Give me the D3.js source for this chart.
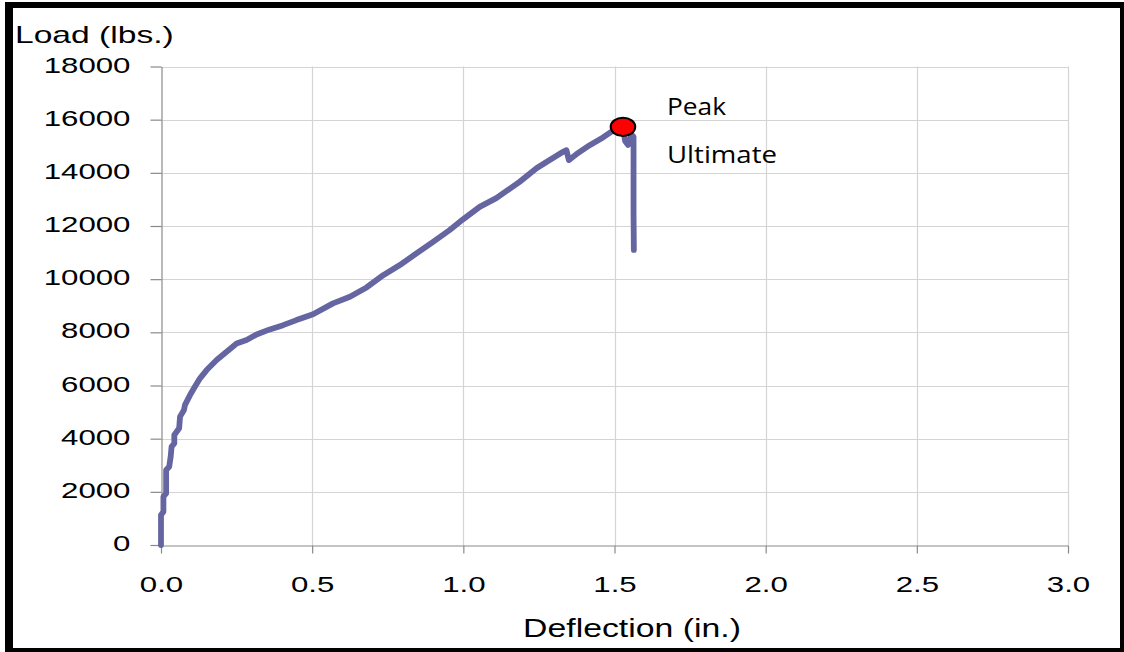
<!DOCTYPE html>
<html>
<head>
<meta charset="utf-8">
<script src="https://cdn.jsdelivr.net/npm/d3@7"></script>
<style>
  html, body { margin: 0; padding: 0; background: #fff; }
  svg { display: block; }
</style>
</head>
<body>
<svg id="chart" width="1124" height="652"></svg>
<script>
// Load–deflection record of the test (deflection in inches, load in lbs)
const deflection = [0, 0, 0.008, 0.008, 0.017, 0.017, 0.027, 0.032, 0.035, 0.044, 0.044,
  0.060, 0.063, 0.076, 0.079, 0.096, 0.112, 0.129, 0.151, 0.184, 0.217, 0.250, 0.283,
  0.316, 0.360, 0.404, 0.448, 0.503, 0.569, 0.625, 0.680, 0.735, 0.790, 0.845, 0.900,
  0.955, 0.999, 1.054, 1.109, 1.186, 1.242, 1.275, 1.330, 1.341, 1.349, 1.356, 1.374,
  1.418, 1.462, 1.489, 1.528, 1.535, 1.545, 1.552, 1.560, 1.563, 1.563, 1.564];
const load = [0, 1130, 1250, 1820, 1940, 2820, 2940, 3320, 3700, 3820, 4140,
  4390, 4830, 5080, 5260, 5640, 5950, 6270, 6580, 6960, 7270, 7580, 7710,
  7920, 8110, 8270, 8460, 8680, 9090, 9340, 9690, 10150, 10530, 10970, 11400,
  11850, 12250, 12720, 13050, 13660, 14170, 14410, 14790, 14850, 14480, 14540, 14700,
  15040, 15330, 15540, 15730, 15200, 15050, 15300, 15400, 15350, 12500, 11100];

// Highlighted peak load
const peakPoint = { deflection: 1.528, load: 15730 };

// Axis ticks
const xTicks = [0, 0.5, 1.0, 1.5, 2.0, 2.5, 3.0];
const yTicks = [0, 2000, 4000, 6000, 8000, 10000, 12000, 14000, 16000, 18000];

// Annotation labels
const annotations = ["Peak", "Ultimate"];

const svg = d3.select("#chart");
const plot = { left: 161, right: 1068, top: 66.5, bottom: 545 };

const x = d3.scaleLinear().domain([0, 3]).range([plot.left, plot.right]);
const y = d3.scaleLinear().domain([0, 18000]).range([plot.bottom, plot.top]);

const arial = "'Liberation Sans', Arial, Helvetica, sans-serif";

// Outer frame
const frame = svg.append("g").attr("fill", "#000");
frame.append("rect").attr("x", 5).attr("y", 2).attr("width", 1119).attr("height", 6);
frame.append("rect").attr("x", 5).attr("y", 2).attr("width", 8).attr("height", 650);
frame.append("rect").attr("x", 1120).attr("y", 2).attr("width", 4).attr("height", 650);
frame.append("rect").attr("x", 5).attr("y", 648).attr("width", 1119).attr("height", 4);

// Gridlines
const grid = svg.append("g").attr("stroke", "#d4d4d4").attr("stroke-width", 1.2);
grid.selectAll("line.h").data(yTicks.filter(d => d > 0)).join("line")
  .attr("x1", plot.left).attr("x2", plot.right)
  .attr("y1", d => Math.round(y(d)) + 0.5).attr("y2", d => Math.round(y(d)) + 0.5);
grid.selectAll("line.v").data(xTicks.filter(d => d > 0)).join("line")
  .attr("y1", plot.top).attr("y2", plot.bottom)
  .attr("x1", d => Math.round(x(d)) + 0.5).attr("x2", d => Math.round(x(d)) + 0.5);

// Axes
const yAxis = svg.append("g")
  .attr("transform", `translate(${plot.left + 0.5},0)`)
  .call(d3.axisLeft(y).tickValues(yTicks).tickSize(11).tickSizeOuter(0).tickFormat(d3.format("d")));
const xAxis = svg.append("g")
  .attr("transform", `translate(0,${plot.bottom + 0.5})`)
  .call(d3.axisBottom(x).tickValues(xTicks).tickSize(8).tickSizeOuter(0).tickFormat(d3.format(".1f")));

[yAxis, xAxis].forEach(ax => {
  ax.select(".domain").attr("stroke", "#8a8a8a").attr("stroke-width", 1.2);
  ax.selectAll(".tick line").attr("stroke", "#8a8a8a").attr("stroke-width", 1.2);
});

yAxis.selectAll(".tick text")
  .attr("x", null).attr("dy", null)
  .attr("transform", "translate(-31,5.5) scale(1.42,1)")
  .attr("font-family", arial).attr("font-size", 22).attr("fill", "#000")
  .attr("text-anchor", "end");
xAxis.selectAll(".tick text")
  .attr("y", null).attr("dy", null)
  .attr("transform", "translate(0,46) scale(1.42,1)")
  .attr("font-family", arial).attr("font-size", 22).attr("fill", "#000")
  .attr("text-anchor", "middle");

// Axis titles
svg.append("text")
  .attr("transform", "translate(15,43) scale(1.4,1)")
  .attr("font-family", arial).attr("font-size", 24)
  .text("Load (lbs.)");
svg.append("text")
  .attr("transform", "translate(632,637) scale(1.3,1)")
  .attr("font-family", arial).attr("font-size", 26).attr("text-anchor", "middle")
  .text("Deflection (in.)");

// Load–deflection curve
const pts = deflection.map((d, i) => [d, load[i]]);
svg.append("path")
  .datum(pts)
  .attr("fill", "none")
  .attr("stroke", "#6565a1")
  .attr("stroke-width", 5.8)
  .attr("stroke-linejoin", "round")
  .attr("stroke-linecap", "round")
  .attr("d", d3.line().x(d => x(d[0])).y(d => y(d[1])));

// Peak marker
svg.append("ellipse")
  .attr("cx", x(peakPoint.deflection)).attr("cy", y(peakPoint.load))
  .attr("rx", 12.3).attr("ry", 9.2)
  .attr("fill", "#ff0000").attr("stroke", "#000").attr("stroke-width", 2);

// Annotation labels
svg.selectAll("text.note").data(annotations).join("text")
  .attr("class", "note")
  .attr("x", 667)
  .attr("y", (d, i) => 114.5 + i * 48.3)
  .attr("font-family", "'Open Sans', 'Noto Sans', sans-serif")
  .attr("font-size", 24.5)
  .attr("textLength", (d, i) => i === 0 ? 59 : 110)
  .attr("lengthAdjust", "spacingAndGlyphs")
  .text(d => d);
</script>
</body>
</html>
